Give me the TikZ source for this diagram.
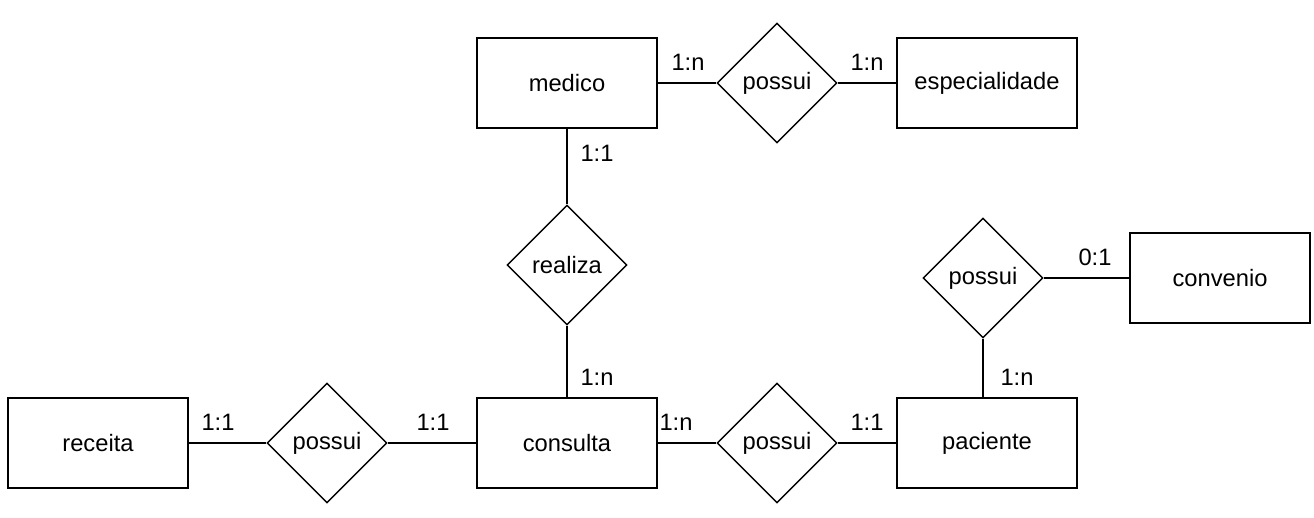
\documentclass[tikz,border=0pt]{standalone}
\usepackage{fontspec}
\setmainfont{Liberation Sans}
\usetikzlibrary{shapes.geometric}
\begin{document}
\begin{tikzpicture}[x=0.02cm,y=-0.02cm,
    every node/.append style={font=\fontsize{13.5}{16}\selectfont},
    entidade/.style={draw,line width=0.8pt,minimum width=3.6cm,minimum height=1.8cm},
    relacao/.style={draw,diamond,aspect=1,line width=0.8pt,inner sep=0pt,minimum width=2.4cm,minimum height=2.4cm}]
  \useasboundingbox (0,0) rectangle (1314,517);
  \draw
    (567,83) node[entidade] (medico){medico}
    (987,83) node[entidade] (especialidade){especialidade}
    (567,443) node[entidade] (consulta){consulta}
    (98,443) node[entidade] (receita){receita}
    (987,443) node[entidade] (paciente){paciente}
    (1220,278) node[entidade] (convenio){convenio};
  \draw
    (777,83) node[relacao] (possuiA){possui}
    (567,265) node[relacao] (realiza){realiza}
    (327,443) node[relacao] (possuiB){possui}
    (777,443) node[relacao] (possuiC){possui}
    (983,278) node[relacao] (possuiD){possui};
  \begin{scope}[-,line width=0.8pt]
    \draw (medico) to (possuiA);
    \draw (possuiA) to (especialidade);
    \draw (medico) to (realiza);
    \draw (realiza) to (consulta);
    \draw (receita) to (possuiB);
    \draw (possuiB) to (consulta);
    \draw (consulta) to (possuiC);
    \draw (possuiC) to (paciente);
    \draw (possuiD) to (convenio);
    \draw (possuiD.south) to (possuiD.south |- paciente.north);
  \end{scope}
  \draw
    (688,62) node (cardA){1:n}
    (867,62) node (cardB){1:n}
    (597,153) node (cardC){1:1}
    (597,377) node (cardD){1:n}
    (218,422) node (cardE){1:1}
    (433,422) node (cardF){1:1}
    (676,422) node (cardG){1:n}
    (867,422) node (cardH){1:1}
    (1095,257) node (cardI){0:1}
    (1017,377) node (cardJ){1:n};
\end{tikzpicture}
\end{document}
